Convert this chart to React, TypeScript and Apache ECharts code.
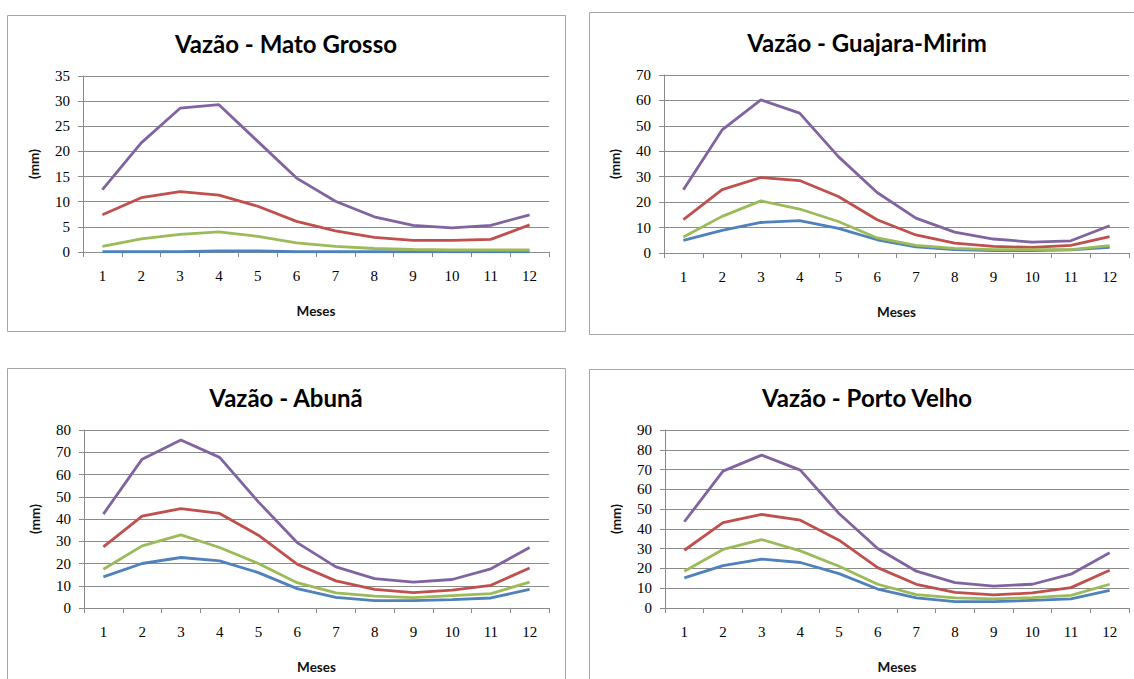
import React, { useEffect, useRef } from "react";
import * as echarts from "echarts";

const months = ["1", "2", "3", "4", "5", "6", "7", "8", "9", "10", "11", "12"];

const titles = ["Vazão - Mato Grosso", "Vazão - Guajara-Mirim", "Vazão - Abunã", "Vazão - Porto Velho"];
const yMax = [35, 70, 80, 90];
const yStep = [5, 10, 10, 10];

// Mato Grosso
const matoBlue = [0.05, 0.05, 0.05, 0.2, 0.2, 0.05, 0.05, 0.05, 0.05, 0.05, 0.05, 0.05];
const matoRed = [7.4, 10.8, 12.0, 11.3, 9.1, 6.1, 4.2, 2.9, 2.3, 2.3, 2.5, 5.4];
const matoGreen = [1.1, 2.6, 3.5, 4.0, 3.1, 1.8, 1.1, 0.7, 0.5, 0.4, 0.4, 0.4];
const matoPurple = [12.4, 21.7, 28.6, 29.3, 22.0, 14.7, 10.1, 7.0, 5.3, 4.8, 5.3, 7.4];

// Guajara-Mirim
const guaBlue = [5.0, 8.9, 12.0, 12.7, 9.7, 5.2, 2.4, 1.3, 0.9, 0.9, 1.2, 2.2];
const guaRed = [13.1, 24.9, 29.7, 28.5, 22.2, 13.1, 7.1, 3.9, 2.6, 2.2, 3.0, 6.4];
const guaGreen = [6.3, 14.4, 20.5, 17.3, 12.4, 5.9, 3.0, 1.8, 1.3, 1.3, 1.3, 2.9];
const guaPurple = [24.9, 48.4, 60.2, 55.0, 37.9, 23.8, 13.7, 8.2, 5.5, 4.3, 4.8, 10.7];

// Abunã
const abuBlue = [14.0, 20.0, 22.7, 21.2, 15.9, 8.7, 4.8, 3.3, 3.3, 3.8, 4.5, 8.4];
const abuRed = [27.5, 41.3, 44.7, 42.5, 32.7, 19.7, 12.2, 8.4, 6.9, 8.0, 10.2, 18.0];
const abuGreen = [17.4, 27.9, 32.9, 27.2, 20.0, 11.4, 6.8, 5.3, 4.7, 5.6, 6.5, 11.6];
const abuPurple = [42.2, 66.9, 75.5, 67.7, 47.7, 29.4, 18.5, 13.2, 11.6, 12.8, 17.6, 27.2];

// Porto Velho
const pvBlue = [15.2, 21.4, 24.7, 23.0, 17.4, 9.6, 5.1, 3.2, 3.2, 3.9, 4.6, 8.9];
const pvRed = [29.2, 43.2, 47.3, 44.4, 34.3, 20.4, 12.0, 7.9, 6.6, 7.6, 10.3, 19.1];
const pvGreen = [18.6, 29.6, 34.6, 28.9, 21.1, 12.0, 6.8, 5.1, 4.6, 5.2, 6.4, 12.0];
const pvPurple = [43.6, 69.2, 77.3, 69.7, 47.8, 30.1, 18.6, 12.8, 11.1, 12.0, 17.1, 27.9];

const panelData = [
  [matoBlue, matoRed, matoGreen, matoPurple],
  [guaBlue, guaRed, guaGreen, guaPurple],
  [abuBlue, abuRed, abuGreen, abuPurple],
  [pvBlue, pvRed, pvGreen, pvPurple],
];

const colors = ["#4F81BD", "#C0504D", "#9BBB59", "#8064A2"];

// layout
const grids = [
  { left: 83, top: 76, width: 466, height: 176 },
  { left: 664, top: 75, width: 465, height: 178 },
  { left: 84, top: 430, width: 465, height: 178 },
  { left: 665, top: 430, width: 464, height: 178 },
];
const boxes = [
  { x: 7.5, y: 15.5, w: 558, h: 316 },
  { x: 589.5, y: 12.5, w: 556, h: 322 },
  { x: 7.5, y: 368.5, w: 558, h: 330 },
  { x: 589.5, y: 369.5, w: 556, h: 330 },
];
const titlePos = [
  { x: 286, y: 43 },
  { x: 867, y: 42 },
  { x: 286, y: 397 },
  { x: 867, y: 397 },
];

const serif = "Liberation Serif";
const sans = "Lato";

export default function App() {
  const ref = useRef<HTMLDivElement>(null);
  useEffect(() => {
    if (!ref.current) return;
    const chart = echarts.init(ref.current, null, { renderer: "svg" });
    const gray = "#8a8a8a";
    const option: any = {
      animation: false,
      backgroundColor: "#ffffff",
      grid: grids.map((g) => ({ ...g, containLabel: false })),
      xAxis: grids.map((_, i) => ({
        type: "category",
        gridIndex: i,
        data: months,
        boundaryGap: true,
        name: "Meses",
        nameLocation: "middle",
        nameGap: 52,
        nameTextStyle: { fontFamily: sans, fontWeight: "bold", fontSize: 13.5, color: "#111" },
        axisLine: { lineStyle: { color: gray, width: 1 } },
        axisTick: { show: true, length: 5, lineStyle: { color: gray } },
        axisLabel: { margin: 16, fontFamily: serif, fontSize: 15, color: "#000" },
        splitLine: { show: false },
      })),
      yAxis: grids.map((_, i) => ({
        type: "value",
        gridIndex: i,
        min: 0,
        max: yMax[i],
        interval: yStep[i],
        name: "(mm)",
        nameLocation: "middle",
        nameGap: 42,
        nameRotate: 90,
        nameTextStyle: { fontFamily: sans, fontWeight: "bold", fontSize: 13.5, color: "#111" },
        axisLine: { show: true, lineStyle: { color: gray, width: 1 } },
        axisTick: { show: true, length: 5, lineStyle: { color: gray } },
        axisLabel: { margin: 13, fontFamily: serif, fontSize: 15, color: "#000" },
        splitLine: { show: true, lineStyle: { color: gray, width: 1 } },
      })),
      series: panelData.flatMap((set, i) =>
        set.map((vals, k) => ({
          type: "line",
          xAxisIndex: i,
          yAxisIndex: i,
          data: vals,
          showSymbol: false,
          symbol: "none",
          lineStyle: { color: colors[k], width: 2.8 },
          itemStyle: { color: colors[k] },
          z: 3 + k,
        }))
      ),
      graphic: [
        ...boxes.map((b) => ({
          type: "rect",
          shape: { x: b.x, y: b.y, width: b.w, height: b.h },
          style: { fill: "none", stroke: "#a6a6a6", lineWidth: 1 },
          silent: true,
          z: 0,
        })),
        ...titles.map((t, i) => ({
          type: "text",
          x: titlePos[i].x,
          y: titlePos[i].y,
          style: {
            text: t,
            fontFamily: sans,
            fontWeight: "bold",
            fontSize: 24,
            fill: "#000",
            textAlign: "center",
            textVerticalAlign: "middle",
          },
          silent: true,
        })),
      ],
    };
    chart.setOption(option);
    return () => chart.dispose();
  }, []);
  return (
    <div
      ref={ref}
      style={{ position: "fixed", left: 0, top: 0, width: 1134, height: 679, background: "#fff" }}
    />
  );
}
